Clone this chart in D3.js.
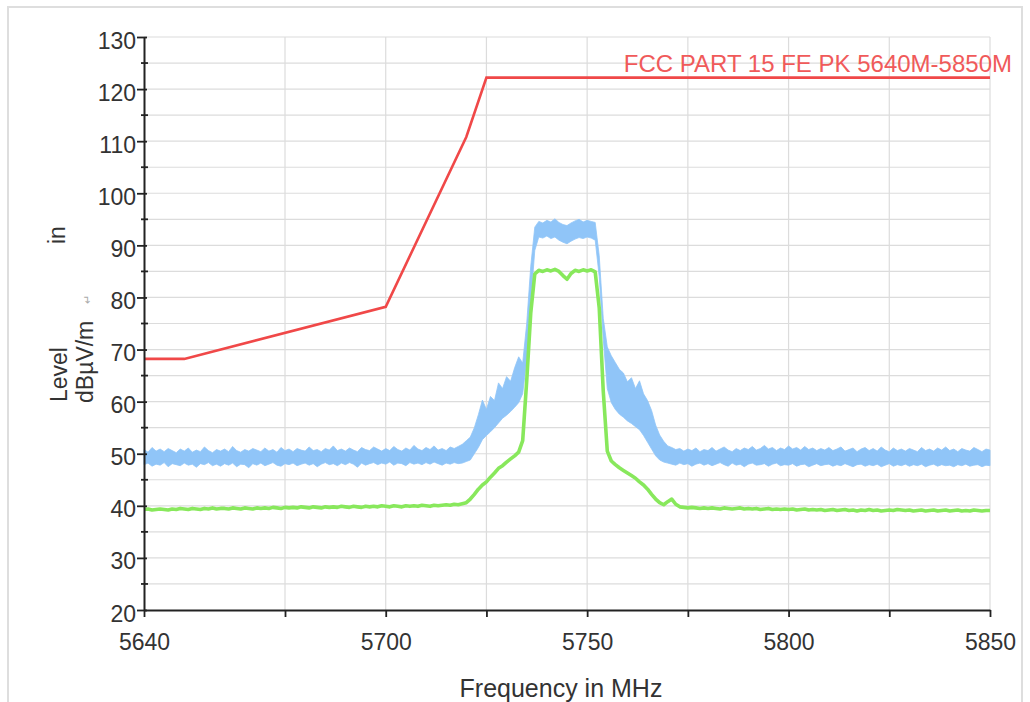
<!DOCTYPE html>
<html>
<head>
<meta charset="utf-8">
<script src="https://cdn.jsdelivr.net/npm/d3@7"></script>
<style>
  html, body { margin: 0; padding: 0; background: #ffffff; }
  svg { display: block; font-family: "Liberation Sans", Arial, sans-serif; }
</style>
</head>
<body>
<svg id="chart" width="1030" height="702"></svg>
<script>
// ---------------- DATA ----------------
const xDomain = [5640, 5850];
const yDomain = [20, 130];
const xTickValues = [5640, 5675, 5700, 5725, 5750, 5775, 5800, 5825, 5850];
const xTickLabels = [5640, 5700, 5750, 5800, 5850];
const yMajorTicks = [20, 30, 40, 50, 60, 70, 80, 90, 100, 110, 120, 130];
const yMinorTicks = [25, 35, 45, 55, 65, 75, 85, 95, 105, 115, 125];

// FCC limit line
const limitFreq = [5640, 5650, 5700, 5720, 5725, 5850];
const limitLevel = [68.2, 68.2, 78.2, 110.8, 122.2, 122.2];
const limitName = "FCC PART 15 FE PK 5640M-5850M";

// sweep grid: 1 MHz steps from 5640 to 5850
const sweepStart = 5640, sweepStep = 1;

// peak trace (blue) upper envelope, per MHz
const peakUpper = [
  50.8,50.3,51.2,50.5,50.9,50.4,51.0,50.6,50.2,50.9,
  50.5,51.1,50.3,50.7,50.4,51.3,50.6,50.2,50.8,50.5,
  50.9,50.4,51.4,50.6,50.3,50.8,50.5,51.0,50.7,50.4,
  51.1,50.5,50.8,50.3,51.2,50.6,50.9,50.4,51.0,50.7,
  50.5,51.3,50.6,50.8,50.4,51.0,50.7,51.5,50.6,50.9,
  50.5,51.1,50.7,50.4,51.2,50.8,50.6,51.3,50.9,50.5,
  51.0,50.6,51.4,50.8,50.5,51.1,50.7,51.6,50.9,50.6,
  51.2,50.8,51.5,50.7,51.0,50.6,51.3,51.0,51.4,51.8,
  52.5,53.2,55.0,57.5,60.3,58.5,61.0,60.2,63.6,62.5,
  64.8,63.9,66.5,68.6,67.4,75.0,86.0,93.5,94.6,94.3,
  94.8,94.5,95.1,94.4,94.0,93.8,94.3,94.7,95.0,94.5,
  94.8,94.6,94.4,88.0,76.0,70.5,68.8,67.5,66.2,65.5,
  63.8,64.6,62.5,64.0,61.5,60.2,58.3,55.5,53.6,52.4,
  51.5,51.2,50.8,51.0,50.5,50.9,50.6,51.1,50.4,50.8,
  50.6,51.2,50.5,50.9,51.3,50.7,50.4,51.0,50.6,51.1,
  50.8,51.4,50.7,51.0,51.6,50.9,51.2,50.6,51.1,50.8,
  51.5,50.9,51.2,50.7,51.4,50.8,51.1,50.6,51.0,50.7,
  51.2,50.6,50.9,51.3,50.5,50.8,51.1,50.4,50.9,51.2,
  50.6,51.0,50.5,51.3,50.7,50.4,51.1,50.6,50.9,50.5,
  51.0,50.7,50.4,51.2,50.6,50.9,50.5,51.1,50.7,51.3,
  50.6,50.9,50.4,51.0,50.7,50.5,51.2,50.8,50.4,50.9,
  50.7
];

// peak trace (blue) lower envelope, per MHz
const peakLower = [
  47.9,48.2,47.6,48.0,47.8,48.3,47.5,48.1,47.9,47.7,
  48.2,47.8,48.0,47.4,48.1,47.9,48.3,47.7,48.0,47.6,
  48.1,47.8,48.2,47.5,48.0,47.9,47.3,48.1,47.8,48.2,
  47.7,48.0,48.3,47.8,47.6,48.1,47.9,48.2,47.7,48.0,
  48.2,47.8,48.1,47.5,48.0,48.3,47.9,48.1,47.7,48.2,
  47.9,48.3,48.0,47.4,48.2,47.8,48.1,48.3,47.9,48.2,
  48.0,48.4,47.8,48.2,48.1,47.7,48.3,48.0,48.2,47.9,
  48.3,48.0,48.4,48.1,47.8,48.2,48.0,48.3,48.1,48.2,
  48.5,48.8,50.0,51.2,52.7,53.5,54.2,55.0,55.9,56.8,
  57.4,58.1,58.9,59.8,61.5,68.0,79.0,89.0,91.6,91.4,
  91.8,91.3,91.6,91.0,90.6,90.3,90.8,91.2,91.5,91.3,
  91.6,91.4,91.0,84.0,72.0,62.5,59.8,58.5,57.6,57.0,
  56.3,55.8,55.2,54.6,53.5,52.2,50.9,49.6,48.8,48.4,
  48.2,48.0,47.8,48.2,47.9,48.1,47.6,48.0,48.2,47.8,
  48.1,47.7,48.0,48.3,47.9,47.6,48.2,47.8,48.0,47.5,
  48.0,48.2,47.8,47.9,48.1,47.6,48.0,48.2,47.7,47.9,
  47.8,48.1,47.6,47.9,48.0,47.5,47.8,48.1,47.7,47.9,
  48.0,47.6,47.9,47.7,48.1,47.8,47.5,47.9,48.0,47.6,
  47.9,47.7,48.0,47.5,47.8,48.1,47.6,47.9,47.7,48.0,
  47.6,47.9,47.7,48.0,47.5,47.8,48.0,47.6,47.9,47.7,
  47.8,47.5,47.9,47.7,48.0,47.6,47.8,47.9,47.5,47.8,
  47.7
];

// average trace (green), per MHz
const avgLevel = [
  39.3,39.4,39.2,39.3,39.4,39.3,39.2,39.4,39.3,39.5,
  39.4,39.3,39.5,39.4,39.3,39.5,39.4,39.6,39.4,39.5,
  39.5,39.4,39.6,39.5,39.4,39.6,39.5,39.4,39.6,39.5,
  39.6,39.5,39.7,39.6,39.5,39.7,39.6,39.7,39.6,39.8,
  39.7,39.6,39.8,39.7,39.6,39.8,39.7,39.8,39.7,39.9,
  39.8,39.7,39.9,39.8,39.7,39.9,39.8,39.9,39.8,40.0,
  39.9,39.8,40.0,39.9,39.8,40.0,39.9,40.0,39.9,40.1,
  40.0,39.9,40.1,40.0,40.1,40.2,40.1,40.3,40.2,40.4,
  40.6,41.3,42.2,43.2,44.0,44.6,45.5,46.3,47.2,47.7,
  48.4,49.0,49.6,50.3,52.5,64.0,77.0,84.5,85.2,85.0,
  85.3,85.1,85.4,85.0,84.2,83.5,84.6,85.2,85.0,85.3,
  85.1,85.3,84.9,78.0,62.0,50.5,48.6,47.9,47.3,46.8,
  46.3,45.8,45.3,44.6,44.0,43.2,42.2,41.3,40.6,40.2,
  40.8,41.3,40.3,39.8,39.7,39.6,39.7,39.6,39.5,39.6,
  39.5,39.6,39.5,39.4,39.6,39.5,39.4,39.5,39.6,39.4,
  39.5,39.4,39.5,39.3,39.4,39.5,39.3,39.4,39.3,39.4,
  39.3,39.4,39.2,39.3,39.4,39.2,39.3,39.2,39.3,39.1,
  39.2,39.3,39.1,39.2,39.3,39.1,39.2,39.0,39.2,39.1,
  39.3,39.1,39.2,39.0,39.1,39.2,39.1,39.3,39.2,39.1,
  39.2,39.0,39.1,39.2,39.0,39.1,39.2,39.0,39.1,39.2,
  39.0,39.1,39.2,39.0,39.1,39.0,39.2,39.1,39.0,39.1,
  39.1
];

const xTitle = "Frequency in MHz";

// ---------------- CHART ----------------
const svg = d3.select("#chart");
const plotL = 144, plotR = 990, plotT = 37, plotB = 610;
const x = d3.scaleLinear().domain(xDomain).range([plotL, plotR]);
const y = d3.scaleLinear().domain(yDomain).range([plotB, plotT]);
const freqOf = i => sweepStart + i * sweepStep;

// outer frame
svg.append("rect").attr("x", 8).attr("y", 7).attr("width", 1014).attr("height", 710)
  .attr("fill", "none").attr("stroke", "#dedede").attr("stroke-width", 2);

// grid
const grid = svg.append("g").attr("stroke", "#dcdcdc").attr("stroke-width", 1.2);
grid.selectAll("line.h").data(yMajorTicks.concat(yMinorTicks).filter(v => v > yDomain[0]))
  .join("line").attr("class", "h")
  .attr("x1", plotL).attr("x2", plotR)
  .attr("y1", d => y(d)).attr("y2", d => y(d));
grid.selectAll("line.v").data(xTickValues.filter(v => v > xDomain[0]))
  .join("line").attr("class", "v")
  .attr("x1", d => x(d)).attr("x2", d => x(d))
  .attr("y1", plotT).attr("y2", plotB);

// blue peak band
const band = d3.area()
  .x((d, i) => x(freqOf(i)))
  .y0((d, i) => y(peakLower[i]))
  .y1((d, i) => y(peakUpper[i]));
svg.append("path").datum(peakUpper).attr("d", band)
  .attr("fill", "#90c5f8").attr("stroke", "#90c5f8").attr("stroke-width", 0.8);

// green average
const avgLine = d3.line().x((d, i) => x(freqOf(i))).y(d => y(d));
svg.append("path").datum(avgLevel).attr("d", avgLine)
  .attr("fill", "none").attr("stroke", "#88e85c").attr("stroke-width", 3.6)
  .attr("stroke-linejoin", "round");

// red limit
const limLine = d3.line().x(d => x(d[0])).y(d => y(d[1]));
svg.append("path").datum(limitFreq.map((f, i) => [f, limitLevel[i]])).attr("d", limLine)
  .attr("fill", "none").attr("stroke", "#f04848").attr("stroke-width", 2.6);
svg.append("text").attr("x", 1012).attr("y", 72).attr("text-anchor", "end")
  .attr("font-size", 24).attr("fill", "#f05a5a").text(limitName);

// axes
const yAxis = d3.axisLeft(y).tickValues(yMajorTicks).tickSize(7).tickSizeOuter(0).tickPadding(1);
const gy = svg.append("g").attr("transform", `translate(${plotL},0)`).call(yAxis);
gy.select(".domain").attr("stroke", "#222").attr("stroke-width", 2);
gy.selectAll(".tick line").attr("stroke", "#222").attr("stroke-width", 1.8);
gy.selectAll(".tick text").attr("font-size", 23).attr("fill", "#333").attr("dy", "0.48em")
  .attr("font-family", "Liberation Sans, Arial, sans-serif");
gy.selectAll(".tick").append("line").attr("x1", 0).attr("x2", 3).attr("stroke", "#222").attr("stroke-width", 1.8);
gy.selectAll("line.minor").data(yMinorTicks).join("line").attr("class", "minor")
  .attr("x1", -3).attr("x2", 4).attr("y1", d => y(d)).attr("y2", d => y(d))
  .attr("stroke", "#222").attr("stroke-width", 1.8);

const xAxis = d3.axisBottom(x).tickValues(xTickValues).tickSize(7).tickSizeOuter(0).tickPadding(17)
  .tickFormat(d => xTickLabels.includes(d) ? d : "");
const gx = svg.append("g").attr("transform", `translate(0,${plotB})`).call(xAxis);
gx.select(".domain").attr("stroke", "#222").attr("stroke-width", 2);
gx.selectAll(".tick line").attr("stroke", "#222").attr("stroke-width", 1.8);
gx.selectAll(".tick text").attr("font-size", 23).attr("fill", "#333")
  .attr("font-family", "Liberation Sans, Arial, sans-serif");

// axis titles
svg.append("text").attr("x", 561).attr("y", 697).attr("text-anchor", "middle")
  .attr("font-size", 25).attr("fill", "#333").text(xTitle);

const yt = svg.append("g").attr("fill", "#333").attr("font-size", 23);
yt.append("text").attr("transform", "translate(67,402) rotate(-90)").text("Level");
yt.append("text").attr("transform", "translate(93,403) rotate(-90)").text("dBµV/m");
yt.append("text").attr("transform", "translate(65,244) rotate(-90)").text("in");
yt.append("text").attr("transform", "translate(91,304) rotate(-90)")
  .attr("font-size", 11).attr("fill", "#aaa").text("↵");
</script>
</body>
</html>
